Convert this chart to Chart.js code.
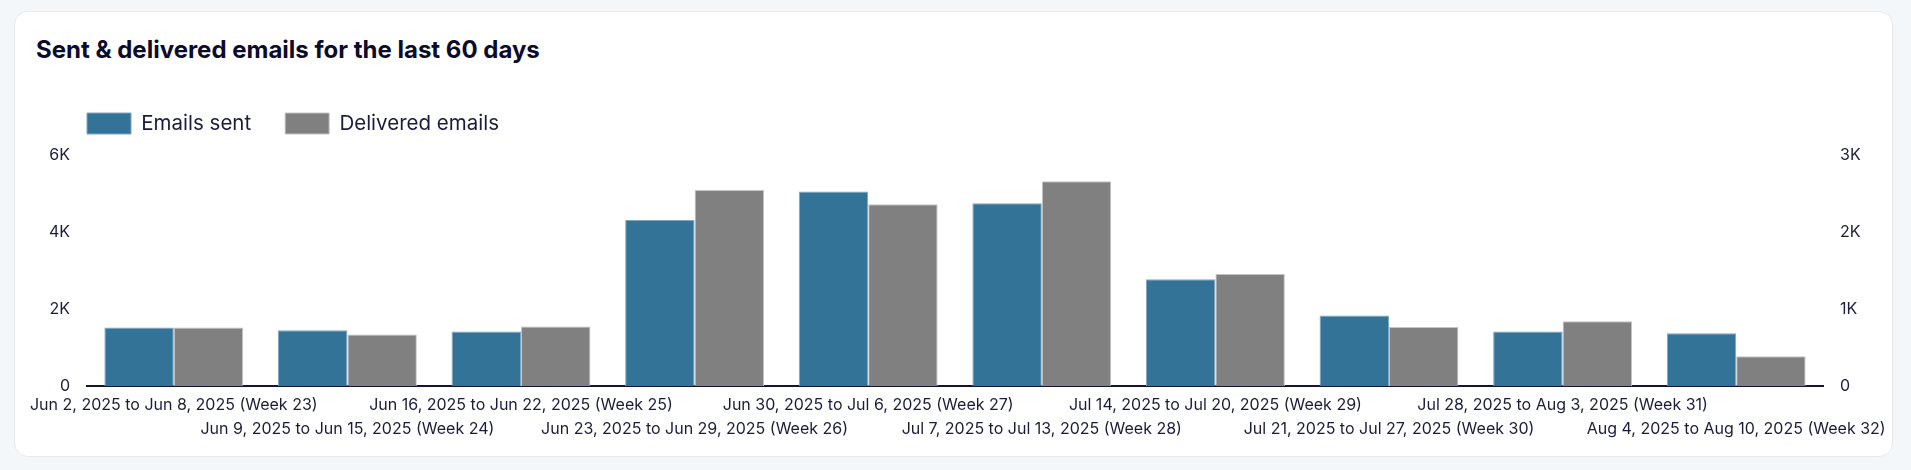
<!DOCTYPE html>
<html><head><meta charset="utf-8">
<script src="https://cdn.jsdelivr.net/npm/chart.js@4.4.1/dist/chart.umd.min.js"></script>
<style>
html,body{margin:0;padding:0;background:#f4f7f9;width:1911px;height:470px;overflow:hidden;font-family:Inter,sans-serif;}
#card{position:absolute;left:14px;top:11px;width:1877px;height:444px;background:#fff;border:1px solid #e6eaed;border-radius:14px;}
#title{position:absolute;left:21px;top:26px;margin:0;font-family:Inter,sans-serif;font-weight:700;font-size:24px;line-height:1;color:#0b0b2c;white-space:nowrap;}
#wrap{position:absolute;left:0;top:0;width:1877px;height:444px;}
</style></head>
<body>
<div id="card">
  <h2 id="title">Sent &amp; delivered emails for the last 60 days</h2>
  <div id="wrap"><canvas id="c"></canvas></div>
</div>
<script>
const weekLabels = [
  'Jun 2, 2025 to Jun 8, 2025 (Week 23)',
  'Jun 9, 2025 to Jun 15, 2025 (Week 24)',
  'Jun 16, 2025 to Jun 22, 2025 (Week 25)',
  'Jun 23, 2025 to Jun 29, 2025 (Week 26)',
  'Jun 30, 2025 to Jul 6, 2025 (Week 27)',
  'Jul 7, 2025 to Jul 13, 2025 (Week 28)',
  'Jul 14, 2025 to Jul 20, 2025 (Week 29)',
  'Jul 21, 2025 to Jul 27, 2025 (Week 30)',
  'Jul 28, 2025 to Aug 3, 2025 (Week 31)',
  'Aug 4, 2025 to Aug 10, 2025 (Week 32)'
];
const emailsSent = [1520, 1450, 1415, 4310, 5055, 4750, 2770, 1830, 1415, 1370];
const deliveredEmails = [760, 670, 772, 2545, 2360, 2660, 1455, 765, 840, 385];
const leftTicks = [0, 2000, 4000, 6000];
const rightTicks = [0, 1000, 2000, 3000];

const INK = '#1b1b3d';
const FONT = 'Inter';

function kLabel(v) { return v === 0 ? '0' : (v / 1000) + 'K'; }

const legendSpacer = {
  id: 'legendSpacer',
  beforeInit(chart) {
    const orig = chart.legend.fit;
    chart.legend.fit = function () { orig.call(this); this.height += 11; };
  },
  afterLayout(chart) {
    chart.legend.left += 4;
  }
};

new Chart(document.getElementById('c'), {
  type: 'bar',
  data: {
    labels: weekLabels,
    datasets: [
      { label: 'Emails sent', data: emailsSent, yAxisID: 'y',
        backgroundColor: '#347398', borderColor: '#7fa6c3', borderWidth: 1,
        categoryPercentage: 0.8, barPercentage: 1.0 },
      { label: 'Delivered emails', data: deliveredEmails, yAxisID: 'y1',
        backgroundColor: '#808080', borderColor: '#c4c4c4', borderWidth: 1,
        categoryPercentage: 0.8, barPercentage: 1.0 }
    ]
  },
  options: {
    responsive: true, maintainAspectRatio: false, animation: false,
    layout: { padding: { left: 34, right: 19, top: 67, bottom: 0 } },
    plugins: {
      title: { display: false },
      tooltip: { enabled: false },
      legend: {
        position: 'top', align: 'start',
        labels: { boxWidth: 44, boxHeight: 21, padding: 34, color: INK,
                  font: { family: FONT, size: 20.5 } }
      }
    },
    scales: {
      x: {
        grid: { display: false, drawTicks: false },
        border: { display: true, color: '#14143a', width: 2 },
        ticks: {
          autoSkip: false, maxRotation: 0, minRotation: 0, padding: 8, color: INK,
          font: { family: FONT, size: 16, lineHeight: 1.45 },
          callback: (v, i) => i % 2 === 0 ? [weekLabels[i], ''] : ['', weekLabels[i]]
        },
        afterFit: s => { s.paddingLeft = 0; s.paddingRight = 0; s.height = 70; }
      },
      y: {
        position: 'left', min: leftTicks[0], max: leftTicks[leftTicks.length - 1],
        grid: { display: false, drawTicks: false }, border: { display: false },
        ticks: { stepSize: leftTicks[1] - leftTicks[0], padding: 17, color: INK,
                 font: { family: FONT, size: 16 }, callback: kLabel },
        afterFit: s => { s.width = 38; }
      },
      y1: {
        position: 'right', min: rightTicks[0], max: rightTicks[rightTicks.length - 1],
        grid: { display: false, drawTicks: false }, border: { display: false },
        ticks: { stepSize: rightTicks[1] - rightTicks[0], padding: 17, color: INK,
                 font: { family: FONT, size: 16 }, callback: kLabel },
        afterFit: s => { s.width = 50; }
      }
    }
  },
  plugins: [legendSpacer]
});
</script>
</body></html>
